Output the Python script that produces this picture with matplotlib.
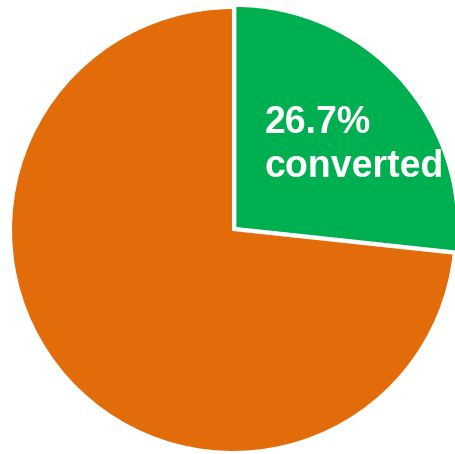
import matplotlib.pyplot as plt

# Conversion split
labels = ['converted', 'not converted']
shares = [26.7, 73.3]
colors = ['#00B050', '#E36C0A']
explode = [0.014, 0.0]

fig = plt.figure(figsize=(4.56, 4.54), dpi=100)
ax = fig.add_axes([0, 0, 1, 1])

ax.pie(shares, colors=colors, startangle=90, counterclock=False,
       explode=explode, radius=1.0,
       wedgeprops={'edgecolor': 'white', 'linewidth': 1.5})

# pie centre at (233, 230) px, radius 222 px
ax.set_xlim(-233 / 222, (456 - 233) / 222)
ax.set_ylim(-224 / 222, 230 / 222)
ax.set_aspect('auto')
ax.axis('off')

ax.text(0.144, 0.239, f'{shares[0]}%\n{labels[0]}', color='white',
        fontsize=27, fontweight='bold', family='Liberation Sans',
        ha='left', va='baseline', linespacing=1.29)

fig.savefig('out.png', dpi=100)
